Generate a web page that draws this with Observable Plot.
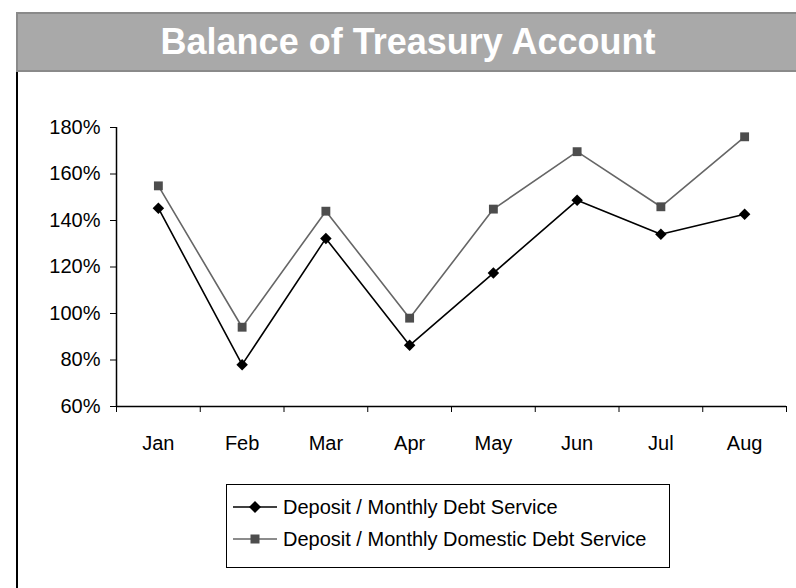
<!DOCTYPE html>
<html><head><meta charset="utf-8">
<script src="https://cdn.jsdelivr.net/npm/d3@7"></script>
<script src="https://cdn.jsdelivr.net/npm/@observablehq/plot@0.6"></script>
<style>
body{margin:0;background:#fff;font-family:"Liberation Sans",Arial,sans-serif;}
#wrap{position:relative;width:796px;height:588px;overflow:hidden;background:#fff;}
#title{position:absolute;left:16px;top:12px;width:780px;height:56px;background:#a9a9a9;border:2px solid #8a8a8a;color:#fff;font-weight:bold;font-size:36px;text-align:center;line-height:56px;}
#leftline{position:absolute;left:16px;top:72px;width:2px;height:520px;background:#000;}
#chart{position:absolute;left:0;top:0;}
#legend{position:absolute;left:226px;top:484px;width:444px;height:84px;border:1px solid #000;box-sizing:border-box;font-size:20px;color:#000;}
.row{position:absolute;left:6px;height:24px;display:flex;align-items:center;white-space:nowrap;}
.row svg{margin-right:6px;}
</style></head>
<body>
<div id="wrap">
  <div id="title">Balance of Treasury Account</div>
  <div id="leftline"></div>
  <div id="chart"></div>
  <div id="legend"></div>
</div>
<script>
const months = ["Jan","Feb","Mar","Apr","May","Jun","Jul","Aug"];
const debtService = [145.3,78.0,132.3,86.3,117.4,148.7,134.1,142.7];
const domesticDebtService = [154.9,94.1,144.0,98.0,144.9,169.6,145.9,176.0];
const yTicks = [60,80,100,120,140,160,180];
const seriesNames = ["Deposit / Monthly Debt Service","Deposit / Monthly Domestic Debt Service"];

const rows = months.map((m,i)=>({i, m, a: debtService[i], b: domesticDebtService[i]}));
const xDomain = [-0.5, months.length - 0.5];
const yDomain = [yTicks[0], yTicks[yTicks.length-1]];

const chart = Plot.plot({
  width: 796, height: 588,
  marginLeft: 116, marginRight: 10, marginTop: 127, marginBottom: 182,
  x: {domain: xDomain, axis: null, label: null},
  y: {domain: yDomain, axis: null, label: null},
  style: {fontFamily: '"Liberation Sans", Arial, sans-serif', fontSize: "20px", background: "transparent", color: "#000", overflow: "visible"},
  marks: [
    Plot.axisY({ticks: yTicks, tickFormat: d => d + "%", tickSize: 6, tickPadding: 10, stroke: "#000", strokeWidth: 1, fill: "#000", label: null}),
    Plot.axisX({ticks: d3.range(xDomain[0], xDomain[1] + 0.01, 1), tickFormat: () => "", tickSize: 6, stroke: "#000", label: null}),
    Plot.axisX({ticks: d3.range(0, months.length), tickFormat: i => months[i], tickSize: 0, tickPadding: 29, fill: "#000", label: null}),
    Plot.ruleX([xDomain[0]], {stroke: "#000", strokeWidth: 1.5}),
    Plot.ruleY([yDomain[0]], {stroke: "#000", strokeWidth: 1.5}),
    Plot.line(rows, {x: "i", y: "b", stroke: "#666", strokeWidth: 1.6}),
    Plot.dot(rows, {x: "i", y: "b", symbol: "square", fill: "#4d4d4d", stroke: "none", r: 5}),
    Plot.line(rows, {x: "i", y: "a", stroke: "#000", strokeWidth: 1.6}),
    Plot.dot(rows, {x: "i", y: "a", symbol: "diamond2", fill: "#000", stroke: "none", r: 5.2})
  ]
});
document.getElementById("chart").appendChild(chart);

// legend
const legend = document.getElementById("legend");
const specs = [
  {name: seriesNames[0], line: "#000", marker: "diamond"},
  {name: seriesNames[1], line: "#666", marker: "square"}
];
specs.forEach((s, k) => {
  const row = document.createElement("div");
  row.className = "row";
  row.style.top = (10 + k * 32) + "px";
  const m = s.marker === "diamond"
    ? '<path d="M22,6 L28,12 L22,18 L16,12 Z" fill="#000"/>'
    : '<rect x="17.5" y="7.5" width="9" height="9" fill="#4d4d4d"/>';
  row.innerHTML = '<svg width="44" height="24"><line x1="0" y1="12" x2="44" y2="12" stroke="' + s.line + '" stroke-width="1.6"/>' + m + '</svg><span>' + s.name + '</span>';
  legend.appendChild(row);
});
</script>
</body></html>
